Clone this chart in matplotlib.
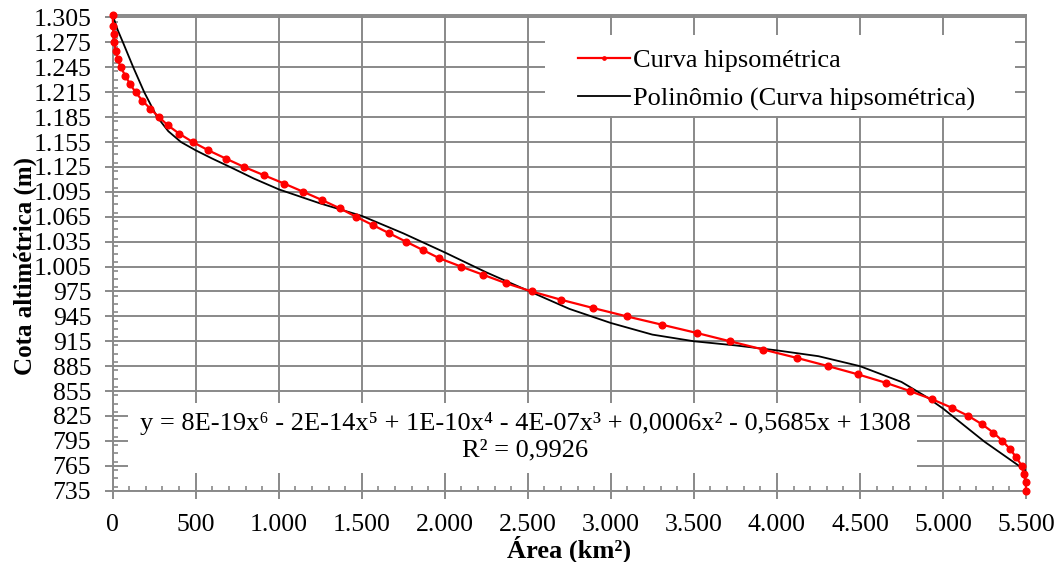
import numpy as np
import matplotlib
matplotlib.use("Agg")
import matplotlib.pyplot as plt
from matplotlib.patches import Rectangle
from matplotlib.ticker import MultipleLocator, FuncFormatter

# hypsometric curve: elevation classes (m) and cumulative area above them
cota = [1308, 1295, 1285, 1275, 1265, 1255, 1245, 1235, 1225, 1215,
        1205, 1195, 1185, 1175, 1165, 1155, 1145, 1135, 1125, 1115,
        1105, 1095, 1085, 1075, 1065, 1055, 1045, 1035, 1025, 1015,
        1005, 995, 985, 975, 965, 955, 945, 935, 925, 915,
        905, 895, 885, 875, 865, 855, 845, 835, 825, 815,
        805, 795, 785, 775, 765, 755, 745, 735]
area = [0, 2, 5, 10, 18, 30, 48, 76, 104, 138,
        178, 227, 279, 333, 401, 482, 576, 682, 791, 911,
        1032, 1148, 1262, 1369, 1465, 1566, 1666, 1766, 1867, 1967,
        2097, 2232, 2367, 2523, 2700, 2894, 3095, 3306, 3517, 3717,
        3918, 4119, 4309, 4490, 4655, 4801, 4936, 5052, 5153, 5235,
        5303, 5358, 5404, 5442, 5474, 5486, 5498, 5500]

# 6th order trendline as drawn by the spreadsheet
trend_area = [0, 30, 64, 124, 190, 265, 335, 411, 500, 600, 706, 850,
              1000, 1250, 1500, 1750, 2000, 2250, 2500, 2750, 3000, 3250,
              3500, 3750, 4000, 4250, 4500, 4750, 4900, 5000, 5100, 5250,
              5400, 5500]
trend_cota = [1308, 1290, 1274, 1245, 1215, 1186, 1168, 1155, 1145, 1135,
              1125, 1111, 1098, 1081, 1066, 1045, 1022, 998, 976, 954,
              937, 923, 915, 910, 904, 897, 885, 866, 848, 834,
              818, 794, 773, 759]

eq_text = ("y = 8E-19x\u2076 - 2E-14x\u2075 + 1E-10x\u2074 - 4E-07x\u00b3 "
           "+ 0,0006x\u00b2 - 0,5685x + 1308\nR\u00b2 = 0,9926")

plt.rcParams['font.family'] = ['Liberation Serif', 'DejaVu Serif']
plt.rcParams['font.size'] = 19

grid_c = '#898989'

fig = plt.figure(figsize=(10.64, 5.62), dpi=100)
ax = fig.add_axes([0.1059, 0.1269, 0.8584, 0.8464])

ax.plot(area, cota, color='#ff0000', lw=1.6, marker='o', ms=4.8,
        clip_on=False, zorder=4, label='Curva hipsométrica')
ax.plot(trend_area, trend_cota, color='black', lw=1.3, zorder=3,
        label='Polinômio (Curva hipsométrica)')

ax.set_xlim(0, 5500)
ax.set_ylim(735, 1308)
ax.xaxis.set_major_locator(MultipleLocator(500))
ax.xaxis.set_minor_locator(MultipleLocator(100))
ax.set_yticks(np.arange(735, 1306, 30))
ax.yaxis.set_minor_locator(MultipleLocator(10))

fmt = FuncFormatter(lambda v, p: f"{v:,.0f}".replace(',', '.'))
ax.xaxis.set_major_formatter(fmt)
ax.yaxis.set_major_formatter(fmt)

ax.grid(True, which='major', color=grid_c, lw=1.4)
ax.set_axisbelow(True)
for s in ax.spines.values():
    s.set_color(grid_c)
    s.set_linewidth(1.4)

ax.tick_params(which='major', direction='out', length=5.5, width=1.4,
               color=grid_c, labelsize=18.5)
ax.tick_params(axis='y', which='major', pad=10)
ax.tick_params(axis='x', which='major', pad=11)
ax.tick_params(which='minor', direction='in', length=3.5, width=1.2,
               color=grid_c)

ax.set_xlabel('Área (km²)', fontweight='bold', fontsize=19, labelpad=0)
ax.set_ylabel('Cota altimétrica (m)', fontweight='bold', fontsize=18)
ax.yaxis.set_label_coords(-0.083, 0.472)

# white backgrounds of the legend and of the equation label
ax.add_patch(Rectangle((0.4733, 0.7877), 0.5147, 0.1703, transform=ax.transAxes,
                       facecolor='white', edgecolor='none', zorder=2.5))
ax.add_patch(Rectangle((0.0168, 0.0372), 0.8639, 0.1472, transform=ax.transAxes,
                       facecolor='white', edgecolor='none', zorder=2.5))

leg = ax.legend(loc='upper left', bbox_to_anchor=(0.5007, 0.9453),
                borderaxespad=0, frameon=False, fontsize=19,
                handlelength=1.97, handletextpad=0.12, labelspacing=0.55,
                borderpad=0.3, markerscale=0.5)
leg.set_zorder(5)

ax.text(0.4514, 0.1129, eq_text, transform=ax.transAxes, ha='center',
        va='center', multialignment='center', fontsize=19, linespacing=1.25,
        zorder=5)

fig.savefig('out.png', dpi=100)
